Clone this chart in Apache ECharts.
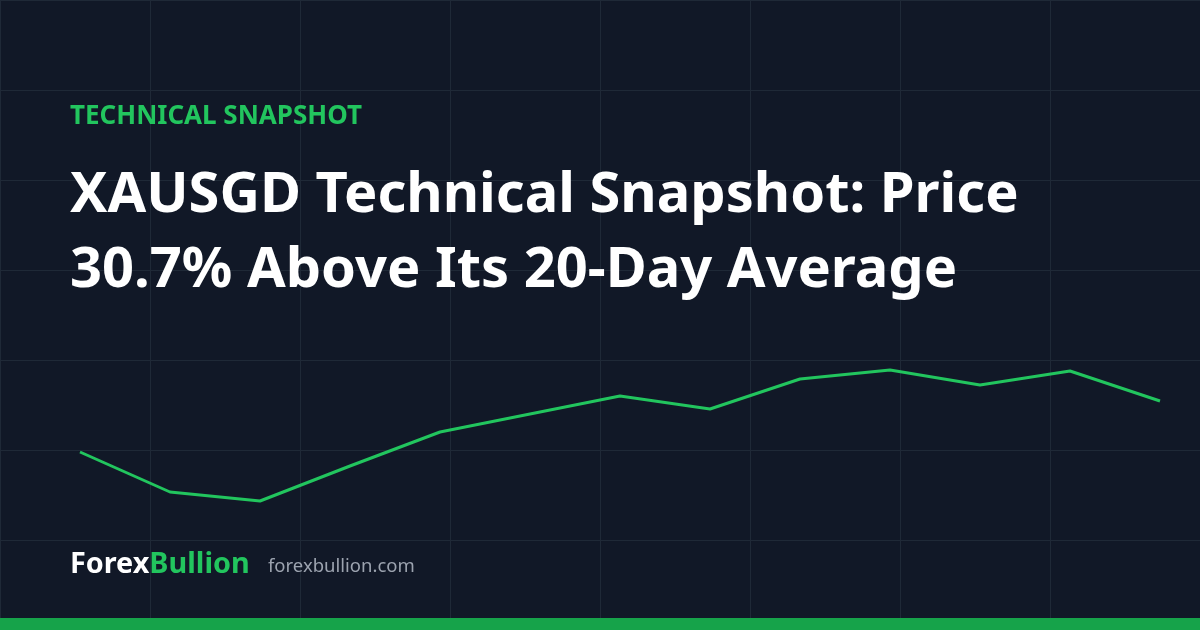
<!DOCTYPE html>
<html lang="en">
<head>
    <meta charset="UTF-8"/>
    <title>XAUSGD snapshot</title>
    <script src="https://cdn.jsdelivr.net/npm/echarts@6/dist/echarts.min.js"></script>
    <style>
        html, body { margin: 0; padding: 0; background: #111827; }
    </style>
</head>
<body>

<div id="main" style="width: 1200px;height:630px;"></div>

<script type="text/javascript">
    // data (XAUSGD, last 13 sessions)
    var days = ['D1', 'D2', 'D3', 'D4', 'D5', 'D6', 'D7', 'D8', 'D9', 'D10', 'D11', 'D12', 'D13'];
    var price = [5156, 5076, 5058, 5128, 5196, 5232, 5268, 5242, 5302, 5320, 5290, 5318, 5258];

    var kicker = 'TECHNICAL SNAPSHOT';
    var titleLines = ['XAUSGD Technical Snapshot: Price', '30.7% Above Its 20-Day Average'];
    var brandA = 'Forex';
    var brandB = 'Bullion';
    var site = 'forexbullion.com';

    var myChart = echarts.init(document.getElementById('main'));

    option = {
        backgroundColor: '#111827',
        animation: false,
        grid: [
            // background squares
            {left: 0, top: 0, width: 1200, height: 630},
            // price line
            {left: 80, right: 40, top: 300, bottom: 100}
        ],
        xAxis: [
            {
                gridIndex: 0, type: 'value', min: 0, max: 1200, interval: 150, z: 0,
                axisLine: {show: false}, axisTick: {show: false}, axisLabel: {show: false},
                splitLine: {lineStyle: {color: '#1f2937', width: 1}}
            },
            {
                gridIndex: 1, type: 'category', data: days, boundaryGap: false,
                show: false
            }
        ],
        yAxis: [
            {
                gridIndex: 0, type: 'value', min: 0, max: 630, interval: 90, inverse: true, z: 0,
                axisLine: {show: false}, axisTick: {show: false}, axisLabel: {show: false},
                splitLine: {lineStyle: {color: '#1f2937', width: 1}}
            },
            {
                gridIndex: 1, type: 'value', min: 5000, max: 5460,
                show: false, splitLine: {show: false}
            }
        ],
        series: [
            {
                name: 'XAUSGD',
                type: 'line',
                xAxisIndex: 1,
                yAxisIndex: 1,
                data: price,
                symbol: 'none',
                z: 5,
                lineStyle: {color: '#22c55e', width: 3}
            }
        ],
        graphic: [
            {
                type: 'text', left: 70, top: 104, z: 100,
                style: {text: kicker, fill: '#22c55e', font: 'bold 26px "Noto Sans"'}
            },
            {
                type: 'text', left: 70, top: 159, z: 100,
                style: {
                    text: titleLines.join('\n'), fill: '#ffffff',
                    font: 'bold 56px "Noto Sans"', lineHeight: 75
                }
            },
            {
                type: 'text', left: 70, top: 550, z: 100,
                style: {
                    text: '{a|' + brandA + '}{b|' + brandB + '}',
                    rich: {
                        a: {fill: '#ffffff', font: 'bold 28.8px "Noto Sans"'},
                        b: {fill: '#22c55e', font: 'bold 28.8px "Noto Sans"'}
                    }
                }
            },
            {
                type: 'text', left: 268, top: 557, z: 100,
                style: {text: site, fill: '#9ca3af', font: '18.5px "Noto Sans"'}
            },
            {
                type: 'rect', left: 0, top: 618, z: 100,
                shape: {width: 1200, height: 12},
                style: {fill: '#16a34a'}
            }
        ]
    };

    myChart.setOption(option);
</script>
</body>
</html>
